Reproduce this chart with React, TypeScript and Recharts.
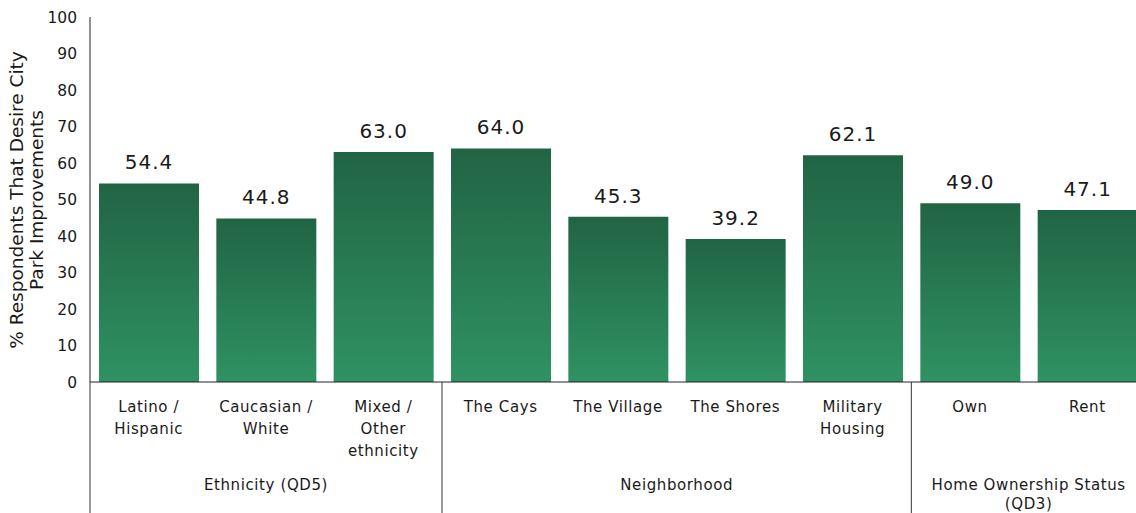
import React from "react";
import { BarChart, Bar, XAxis, YAxis, LabelList } from "recharts";

const categories = [
  ["Latino /", "Hispanic"],
  ["Caucasian /", "White"],
  ["Mixed /", "Other", "ethnicity"],
  ["The Cays"],
  ["The Village"],
  ["The Shores"],
  ["Military", "Housing"],
  ["Own"],
  ["Rent"],
];
const values = [54.4, 44.8, 63.0, 64.0, 45.3, 39.2, 62.1, 49.0, 47.1];
const groups = [
  { label: ["Ethnicity (QD5)"], start: 0, end: 2 },
  { label: ["Neighborhood"], start: 3, end: 6 },
  { label: ["Home Ownership Status", "(QD3)"], start: 7, end: 8 },
];
const yTicks = [0, 10, 20, 30, 40, 50, 60, 70, 80, 90, 100];

const FONT = "DejaVu Sans";
const W = 1146;
const H = 513;
const Y_AXIS_W = 90;
const BAND = (W - Y_AXIS_W) / categories.length;
const BASE_Y = 382;

const data = categories.map((c, i) => ({ name: c.join(" "), lines: c, value: values[i] }));

function CategoryTick(props: any) {
  const { x, index } = props;
  const lines: string[] = categories[index] || [];
  const group = groups.find((g) => g.start === index);
  return (
    <g>
      {lines.map((l, i) => (
        <text key={i} x={x} y={407 + i * 22} textAnchor="middle" dominantBaseline="central"
          fontFamily={FONT} fontSize={15} letterSpacing={0.6} fill="#1a1a1a">{l}</text>
      ))}
      {group && (
        <g>
          <line x1={x - BAND / 2} x2={x - BAND / 2} y1={BASE_Y} y2={H} stroke="#333" strokeWidth={1} />
          {group.label.map((l, i) => (
            <text key={i} x={x + ((group.start + group.end) / 2 - index) * BAND} y={485 + i * 19}
              textAnchor="middle" dominantBaseline="central" fontFamily={FONT} fontSize={15}
              letterSpacing={0.6} fill="#1a1a1a">{l}</text>
          ))}
        </g>
      )}
    </g>
  );
}

function YLabel() {
  return (
    <g fontFamily={FONT} fontSize={18.5} fill="#1a1a1a">
      <text transform="translate(16,200) rotate(-90)" textAnchor="middle" dominantBaseline="central">
        % Respondents That Desire City
      </text>
      <text transform="translate(36,200) rotate(-90)" textAnchor="middle" dominantBaseline="central">
        Park Improvements
      </text>
    </g>
  );
}

export default function App() {
  return (
    <div style={{ position: "absolute", left: 0, top: 0, width: 1136, height: H, overflow: "hidden", background: "#fff" }}>
      <BarChart width={W} height={H} data={data} margin={{ top: 17, right: 0, bottom: 0, left: 0 }}>
        <defs>
          <linearGradient id="barGrad" x1="0" y1="0" x2="0" y2="1">
            <stop offset="0%" stopColor="#216444" />
            <stop offset="100%" stopColor="#2f9262" />
          </linearGradient>
        </defs>
        <XAxis dataKey="name" interval={0} height={131} tickLine={false}
          axisLine={{ stroke: "#222" }} tick={<CategoryTick />} />
        <YAxis domain={[0, 100]} ticks={yTicks} width={Y_AXIS_W} tickLine={false} tickSize={0} tickMargin={13}
          axisLine={{ stroke: "#222" }} interval={0}
          tick={{ fontFamily: FONT, fontSize: 15.5, fill: "#1a1a1a" }}
          label={{ content: () => <YLabel /> }} />
        <Bar dataKey="value" fill="url(#barGrad)" barSize={100} isAnimationActive={false}>
          <LabelList dataKey="value" position="top" offset={14}
            formatter={(v: any) => Number(v).toFixed(1)}
            style={{ fontFamily: FONT, fontSize: 20, letterSpacing: 1, fill: "#1a1a1a" }} />
        </Bar>
      </BarChart>
    </div>
  );
}
